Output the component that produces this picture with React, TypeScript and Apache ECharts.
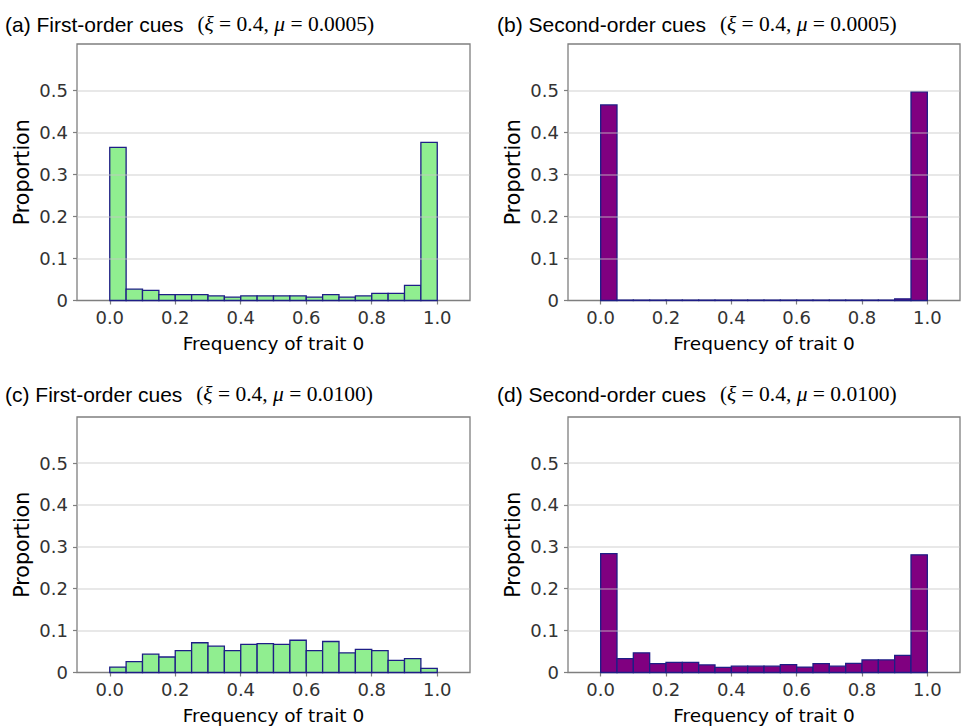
import React, { useEffect, useRef } from "react";
import * as echarts from "echarts";

const BIN_STARTS = [0, 0.05, 0.1, 0.15, 0.2, 0.25, 0.3, 0.35, 0.4, 0.45, 0.5, 0.55, 0.6, 0.65, 0.7, 0.75, 0.8, 0.85, 0.9, 0.95];
const BIN_WIDTH = 0.05;

const firstOrderLowMu = [0.364, 0.027, 0.024, 0.014, 0.014, 0.014, 0.011, 0.008, 0.011, 0.011, 0.011, 0.011, 0.008, 0.014, 0.008, 0.011, 0.017, 0.017, 0.036, 0.376];
const secondOrderLowMu = [0.465, 0.001, 0.001, 0.001, 0.001, 0.001, 0.001, 0.001, 0.001, 0.001, 0.001, 0.001, 0.001, 0.001, 0.001, 0.001, 0.001, 0.001, 0.004, 0.496];
const firstOrderHighMu = [0.013, 0.026, 0.044, 0.037, 0.052, 0.071, 0.063, 0.052, 0.067, 0.069, 0.067, 0.077, 0.052, 0.074, 0.047, 0.055, 0.052, 0.029, 0.033, 0.010];
const secondOrderHighMu = [0.284, 0.033, 0.047, 0.021, 0.024, 0.024, 0.018, 0.012, 0.015, 0.015, 0.015, 0.019, 0.013, 0.021, 0.015, 0.022, 0.030, 0.030, 0.041, 0.281];

const X_TICKS = [0, 0.2, 0.4, 0.6, 0.8, 1.0];
const Y_TICKS = [0, 0.1, 0.2, 0.3, 0.4, 0.5];
const GRID_VALUES = [0.1, 0.2, 0.3, 0.4, 0.5];

const panelLetters = ["(a)", "(b)", "(c)", "(d)"];
const panelKinds = ["First-order cues", "Second-order cues", "First-order cues", "Second-order cues"];
const panelMu = ["0.0005", "0.0005", "0.0100", "0.0100"];
const panelData = [firstOrderLowMu, secondOrderLowMu, firstOrderHighMu, secondOrderHighMu];
const panelFill = ["#90EE90", "#800080", "#90EE90", "#800080"];

const GRIDS = [
  { left: 77, top: 44, width: 393, height: 256.5 },
  { left: 568, top: 44, width: 392, height: 256.5 },
  { left: 77, top: 417, width: 393, height: 255.5 },
  { left: 568, top: 417, width: 392, height: 255.5 },
];
const TITLE_POS = [
  { x: 5, y: 24 },
  { x: 497, y: 24 },
  { x: 5, y: 394 },
  { x: 497, y: 394 },
];

const SANS = "DejaVu Sans";
const AXIS_GRAY = "#7f7f7f";

export default function App() {
  const ref = useRef<HTMLDivElement>(null);
  useEffect(() => {
    if (!ref.current) return;
    const chart = echarts.init(ref.current, null, { renderer: "svg" });
    const grid = GRIDS.map((g) => ({
      ...g,
      show: true,
      borderColor: AXIS_GRAY,
      borderWidth: 1.3,
      backgroundColor: "#fff",
      containLabel: false,
    }));
    const xAxis = GRIDS.map((_, i) => ({
      gridIndex: i,
      type: "value",
      min: -0.1,
      max: 1.1,
      axisLine: { show: false, onZero: false },
      axisTick: { show: true, length: 4, customValues: X_TICKS, lineStyle: { color: AXIS_GRAY, width: 1.2 } },
      axisLabel: {
        customValues: X_TICKS,
        formatter: (v: number) => v.toFixed(1),
        fontSize: 18,
        fontFamily: SANS,
        color: "#333",
        margin: 8,
      },
      splitLine: { show: false },
      name: "Frequency of trait 0",
      nameLocation: "middle",
      nameGap: 33,
      nameTextStyle: { fontSize: 18.5, fontFamily: SANS, color: "#000" },
    }));
    const yAxis = GRIDS.map((_, i) => ({
      gridIndex: i,
      type: "value",
      min: 0,
      max: 0.61,
      axisLine: { show: false, onZero: false },
      axisTick: { show: true, length: 4, customValues: Y_TICKS, lineStyle: { color: AXIS_GRAY, width: 1.2 } },
      axisLabel: {
        customValues: Y_TICKS,
        formatter: (v: number) => (v === 0 ? "0" : v.toFixed(1)),
        fontSize: 18,
        fontFamily: SANS,
        color: "#333",
        margin: 9,
      },
      splitLine: { show: false },
      name: "Proportion",
      nameLocation: "middle",
      nameGap: 45,
      nameTextStyle: { fontSize: 20.5, fontFamily: SANS, color: "#000" },
    }));
    const series = panelData.map((vals, i) => ({
      type: "custom",
      xAxisIndex: i,
      yAxisIndex: i,
      encode: { x: [0, 1], y: 2 },
      data: vals.map((v, k) => [BIN_STARTS[k], BIN_STARTS[k] + BIN_WIDTH, v]),
      renderItem: (params: any, api: any) => {
        const p0 = api.coord([api.value(0), api.value(2)]);
        const p1 = api.coord([api.value(1), 0]);
        return {
          type: "rect",
          shape: { x: p0[0], y: p0[1], width: p1[0] - p0[0], height: p1[1] - p0[1] },
          style: { fill: panelFill[i], stroke: "#1e1e86", lineWidth: 1.3 },
        };
      },
      markLine: {
        silent: true,
        symbol: ["none", "none"],
        label: { show: false },
        lineStyle: { type: "solid", color: "rgba(200,200,200,0.55)", width: 1.5 },
        data: GRID_VALUES.map((v) => ({ yAxis: v })),
      },
    }));
    const graphic = TITLE_POS.map((p, i) => ({
      type: "text",
      x: p.x,
      y: p.y,
      style: {
        text: `{s|${panelLetters[i]} ${panelKinds[i]}}{p|(}{it|ξ}{m| = 0.4, }{it|μ}{m| = ${panelMu[i]})}`,
        verticalAlign: "middle",
        rich: {
          s: { fontFamily: "Liberation Sans", fontSize: 21, fill: "#000" },
          p: { fontFamily: "Liberation Serif", fontSize: 21, fill: "#000", padding: [0, 0, 0, 14] },
          m: { fontFamily: "Liberation Serif", fontSize: 21.5, fill: "#000" },
          it: { fontFamily: "Liberation Serif", fontStyle: "italic", fontSize: 21.5, fill: "#000" },
        },
      },
    }));
    chart.setOption({
      animation: false,
      backgroundColor: "#fff",
      grid,
      xAxis,
      yAxis,
      series,
      graphic,
    } as any);
    return () => chart.dispose();
  }, []);
  return (
    <div
      ref={ref}
      style={{ position: "fixed", left: 0, top: 0, width: 962, height: 726 }}
    />
  );
}
